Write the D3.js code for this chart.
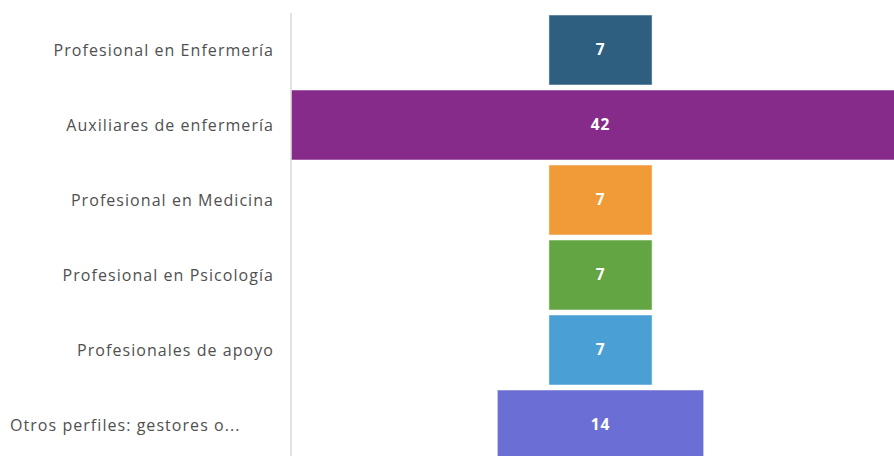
<!DOCTYPE html>
<html><head><meta charset="utf-8">
<script src="https://cdn.jsdelivr.net/npm/d3@7"></script>
<style>body{margin:0;background:#fff}svg{display:block}</style>
</head><body>
<script>
const categories = ["Profesional en Enfermería","Auxiliares de enfermería","Profesional en Medicina","Profesional en Psicología","Profesionales de apoyo","Otros perfiles: gestores o..."];
const values = [7,42,7,7,7,14];
const colors = ["#2E5F80","#872B8A","#F19A38","#63A543","#4A9FD4","#6B6ED4"];

const W=894,H=456;
const svg=d3.select("body").append("svg").attr("width",W).attr("height",H);
const cx=600.5, axisX=291;
const y=d3.scaleBand().domain(categories).range([12.5,462.5]).paddingInner(5/75).paddingOuter(2.5/75);
const w=d3.scaleLinear().domain([0,42]).range([0,(cx-axisX)*2]);

svg.append("defs").append("clipPath").attr("id","pc").append("rect").attr("x",axisX).attr("y",0).attr("width",W-axisX).attr("height",H);

const g=svg.append("g").attr("clip-path","url(#pc)");
g.selectAll("rect.bar").data(values).join("rect").attr("class","bar")
 .attr("x",d=>cx-w(d)/2).attr("width",d=>w(d))
 .attr("y",(d,i)=>y(categories[i])).attr("height",y.bandwidth())
 .attr("fill",(d,i)=>colors[i]).attr("stroke","rgba(255,255,255,0.5)").attr("stroke-width",1);

svg.append("line").attr("x1",axisX).attr("x2",axisX).attr("y1",13).attr("y2",H).attr("stroke","#d9d9d9").attr("stroke-width",1.5);

g.selectAll("text.val").data(values).join("text").attr("class","val")
 .attr("x",cx).attr("y",(d,i)=>y(categories[i])+y.bandwidth()/2).attr("dy","0.35em")
 .attr("text-anchor","middle").attr("fill","#fff").attr("font-family","Open Sans, sans-serif")
 .attr("font-size",15.5).attr("font-weight",700).attr("letter-spacing","0.8px").text(d=>d);

svg.selectAll("text.cat").data(categories).join("text").attr("class","cat")
 .attr("x",(d,i)=>i===categories.length-1?10:274)
 .attr("text-anchor",(d,i)=>i===categories.length-1?"start":"end")
 .attr("y",d=>y(d)+y.bandwidth()/2).attr("dy","0.35em")
 .attr("fill","#505050").attr("font-family","Open Sans, sans-serif").attr("font-size",16)
 .attr("font-weight",500).attr("letter-spacing","1.05px")
 .text(d=>d);
</script>
</body></html>
